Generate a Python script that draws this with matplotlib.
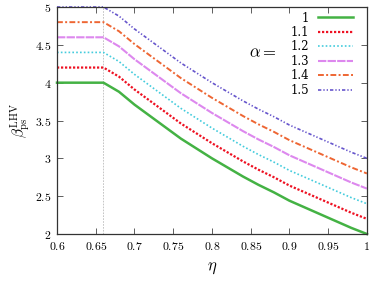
import matplotlib
matplotlib.use('Agg')
import matplotlib.pyplot as plt
from matplotlib.ticker import FuncFormatter

plt.rcParams['mathtext.fontset'] = 'cm'
plt.rcParams['font.family'] = 'serif'
plt.rcParams['font.serif'] = ['DejaVu Serif']

eta = [0.60, 0.66, 0.68, 0.70, 0.72, 0.74, 0.76, 0.78, 0.80, 0.82,
       0.84, 0.86, 0.88, 0.90, 0.92, 0.94, 0.96, 0.98, 1.00]

beta_10 = [4.00, 4.00, 3.88, 3.71, 3.56, 3.41, 3.26, 3.13, 3.00, 2.88,
           2.76, 2.65, 2.55, 2.44, 2.35, 2.26, 2.17, 2.08, 2.00]
beta_11 = [4.20, 4.20, 4.08, 3.91, 3.76, 3.61, 3.46, 3.33, 3.20, 3.08,
           2.96, 2.85, 2.75, 2.64, 2.55, 2.46, 2.37, 2.28, 2.20]
beta_12 = [4.40, 4.40, 4.28, 4.11, 3.96, 3.81, 3.66, 3.53, 3.40, 3.28,
           3.16, 3.05, 2.95, 2.84, 2.75, 2.66, 2.57, 2.48, 2.40]
beta_13 = [4.60, 4.60, 4.48, 4.31, 4.16, 4.01, 3.86, 3.73, 3.60, 3.48,
           3.36, 3.25, 3.15, 3.04, 2.95, 2.86, 2.77, 2.68, 2.60]
beta_14 = [4.80, 4.80, 4.68, 4.51, 4.36, 4.21, 4.06, 3.93, 3.80, 3.68,
           3.56, 3.45, 3.35, 3.24, 3.15, 3.06, 2.97, 2.88, 2.80]
beta_15 = [5.00, 5.00, 4.88, 4.71, 4.56, 4.41, 4.26, 4.13, 4.00, 3.88,
           3.76, 3.65, 3.55, 3.44, 3.35, 3.26, 3.17, 3.08, 3.00]

labels = ['1', '1.1', '1.2', '1.3', '1.4', '1.5']
eta_kink = 0.66

fig = plt.figure(figsize=(3.74, 2.81), dpi=100)
ax = fig.add_axes([0.1524, 0.1673, 0.8286, 0.8077])

ax.axvline(eta_kink, color='#bbbbbb', lw=0.6, ls=(0, (2, 1.5)), zorder=1)

kw = dict(clip_on=False)
ax.plot(eta, beta_10, color='#44b244', lw=1.8, ls='-', label=labels[0], **kw)
ax.plot(eta, beta_11, color='#ee1122', lw=1.6, ls=(0, (1, 0.8)), label=labels[1], **kw)
ax.plot(eta, beta_12, color='#44ccdd', lw=1.2, ls=(0, (1, 1.3)), label=labels[2], **kw)
ax.plot(eta, beta_13, color='#dd88ee', lw=1.5, ls=(0, (4, 0.6)), label=labels[3], **kw)
ax.plot(eta, beta_14, color='#ee6633', lw=1.4, ls=(0, (3, 1.2, 1, 1.2)), label=labels[4], **kw)
ax.plot(eta, beta_15, color='#6655cc', lw=1.2, ls=(0, (2, 1.2, 0.8, 1.2, 0.8, 1.2)), label=labels[5], **kw)

ax.set_xlim(0.6, 1.0)
ax.set_ylim(2, 5)
ax.set_xticks([0.6, 0.65, 0.7, 0.75, 0.8, 0.85, 0.9, 0.95, 1.0])
ax.set_yticks([2, 2.5, 3, 3.5, 4, 4.5, 5])
fmt = FuncFormatter(lambda v, p: '$%g$' % round(v, 2))
ax.xaxis.set_major_formatter(fmt)
ax.yaxis.set_major_formatter(fmt)
ax.tick_params(direction='in', top=True, right=True, length=4, width=0.6,
               labelsize=8.5, pad=4, color='#444444')
for s in ax.spines.values():
    s.set_color('#333333')
    s.set_linewidth(0.9)

ax.set_xlabel(r'$\eta$', fontsize=12, labelpad=5)
ax.set_ylabel(r'$\beta_{\rm ps}^{\rm LHV}$', fontsize=11, labelpad=2)

leg = ax.legend(loc='upper right', markerfirst=False, frameon=False, fontsize=8.5,
                handlelength=3.0, handletextpad=0.7, labelspacing=0.12,
                borderaxespad=0.0, borderpad=0.0, bbox_to_anchor=(0.955, 0.98))
ax.text(0.665, 0.80, r'$\alpha =$', transform=ax.transAxes, fontsize=12,
        ha='center', va='center')

fig.savefig('out.png', dpi=100)
